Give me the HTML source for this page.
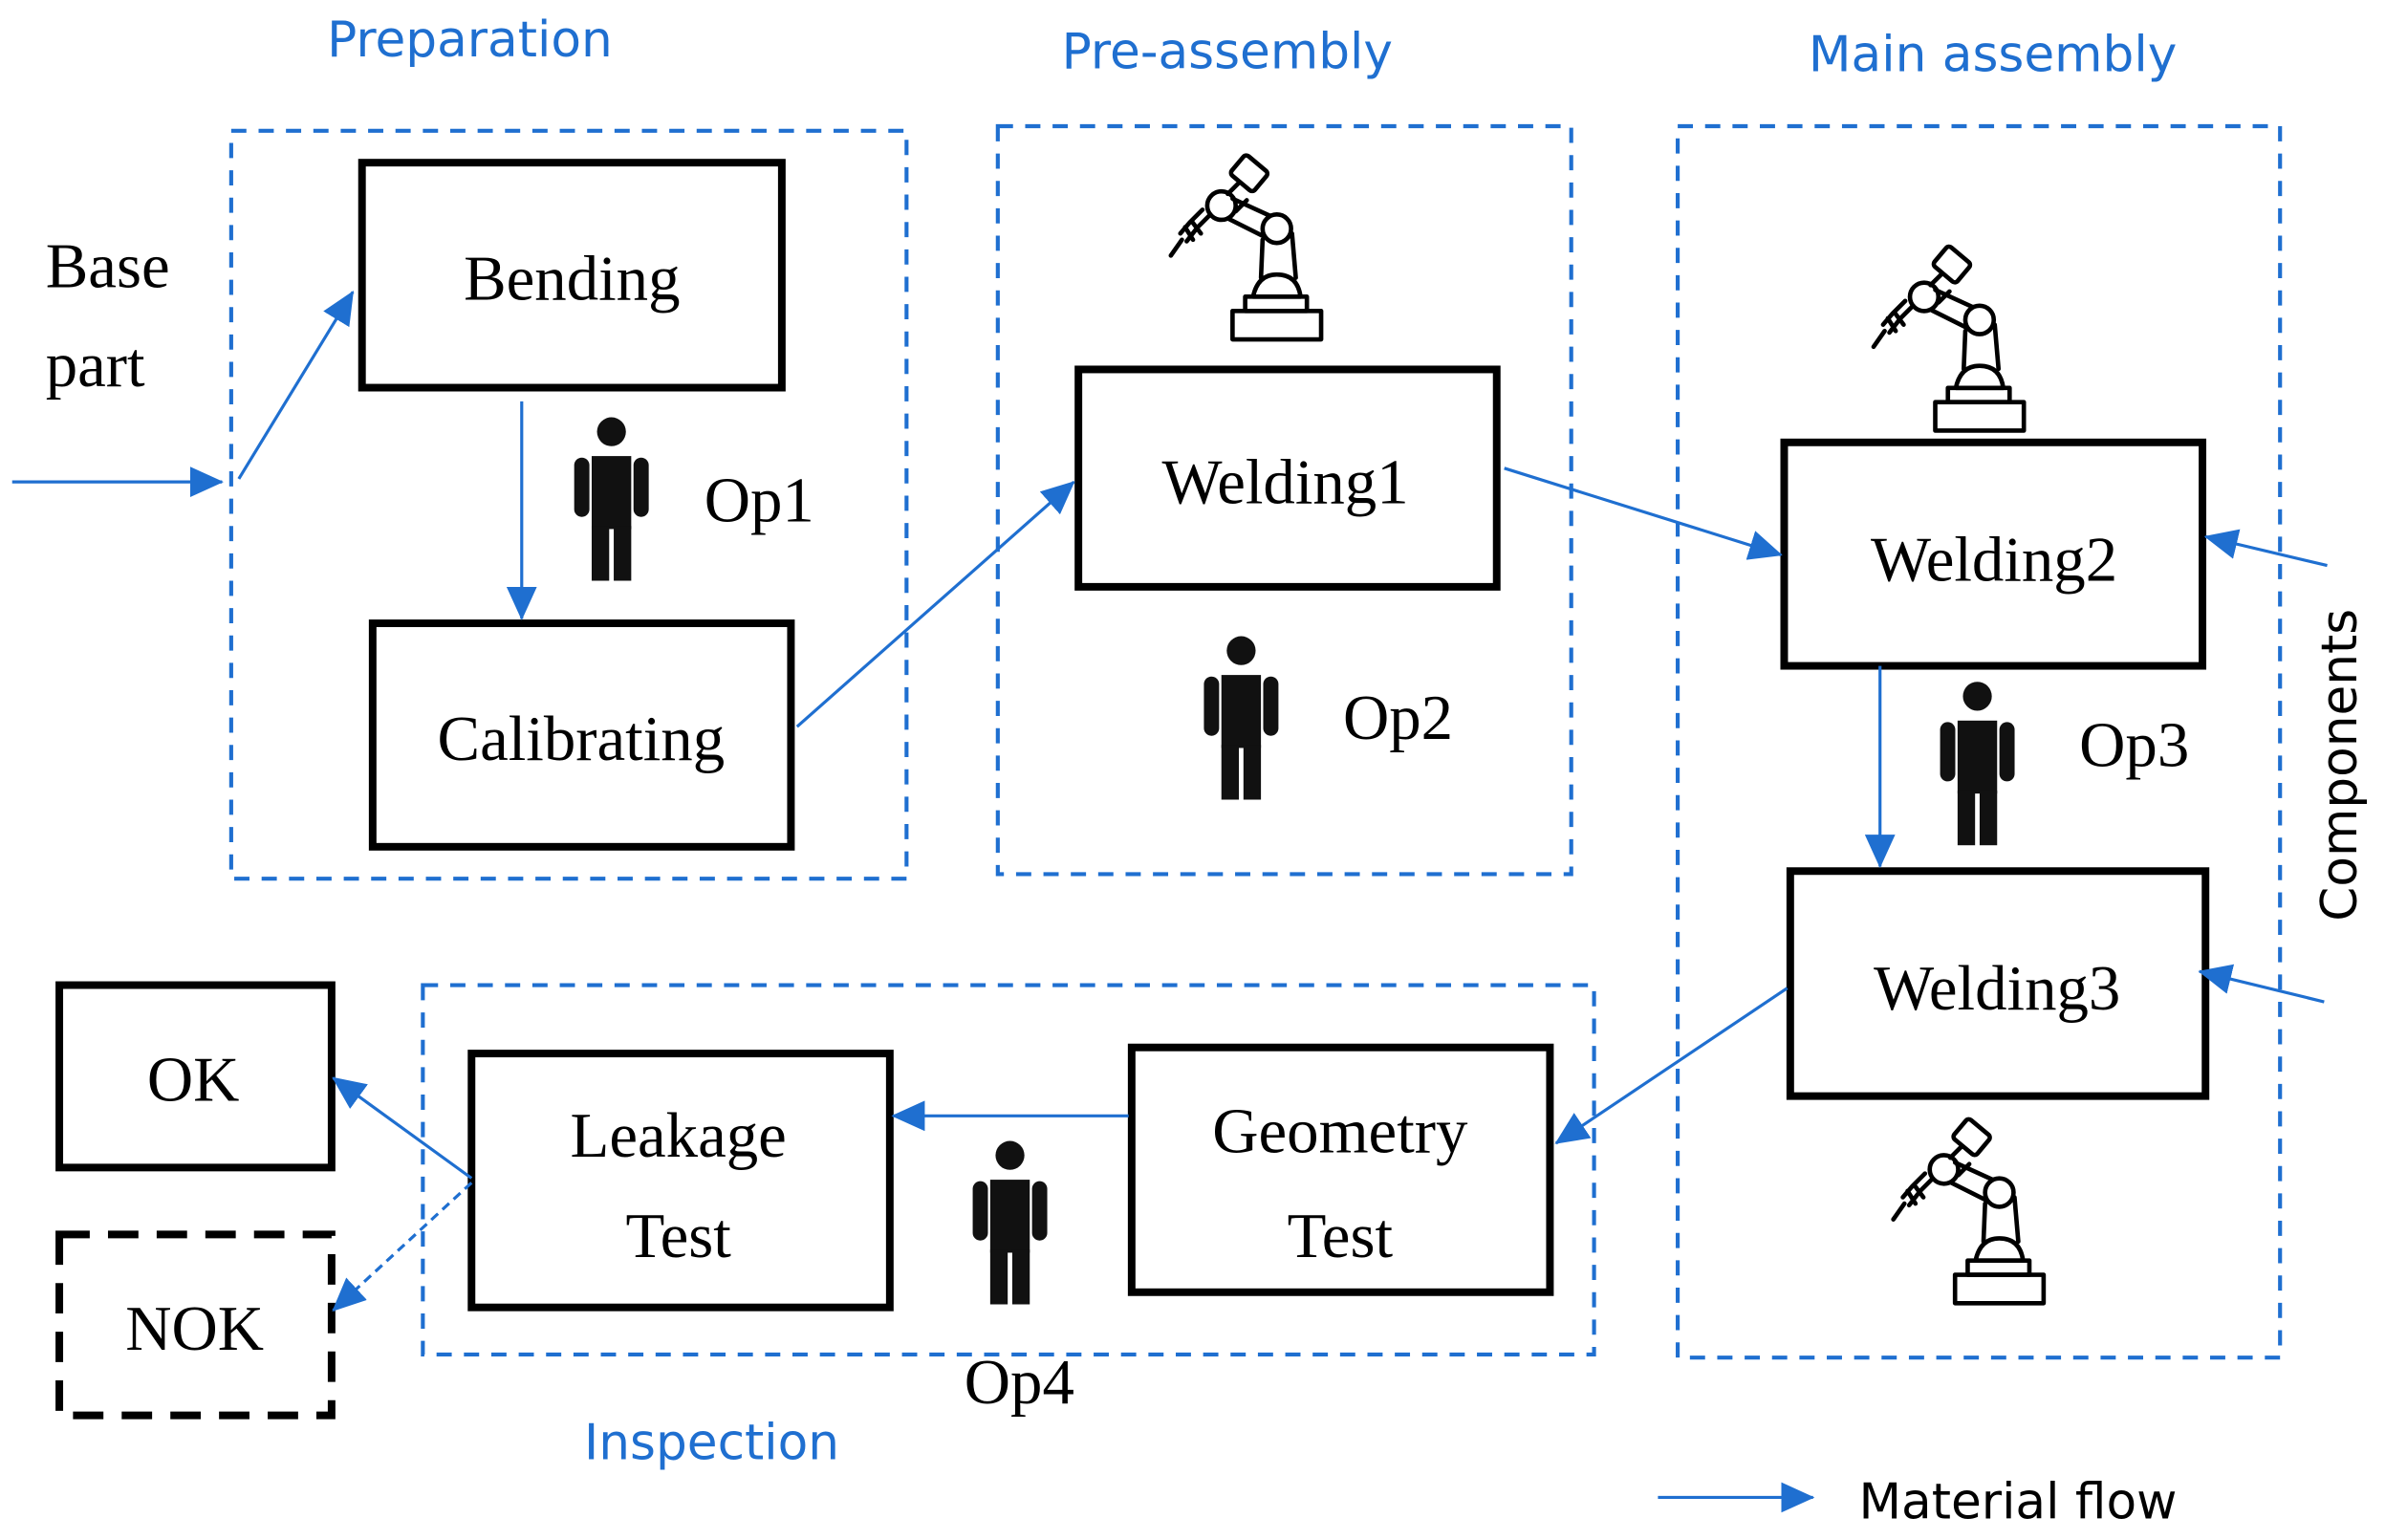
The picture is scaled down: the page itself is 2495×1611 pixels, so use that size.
<!DOCTYPE html>
<html><head><meta charset="utf-8"><style>
html,body{margin:0;padding:0;background:#fff}
svg{display:block}
.s{font-family:"Liberation Serif",serif;font-size:42px;fill:#000}
.b{font-family:"DejaVu Sans","Liberation Sans",sans-serif;font-size:32.5px;fill:#1f6fd0}
</style></head><body>
<svg width="2495" height="1611" viewBox="0 0 1568 1013" preserveAspectRatio="none" xmlns="http://www.w3.org/2000/svg">
<defs>
<marker id="A" markerWidth="22" markerHeight="20" refX="21" refY="10" orient="auto" markerUnits="userSpaceOnUse">
<path d="M0,0 L22,10 L0,20 z" fill="#1f6fd0"/>
</marker>
<g id="p" fill="#111">
<circle cx="0" cy="0" r="9.5"/>
<rect x="-13" y="16" width="26" height="48"/>
<rect x="-13" y="62" width="11.5" height="36"/>
<rect x="1.5" y="62" width="11.5" height="36"/>
<rect x="-24.5" y="17" width="10" height="39" rx="5"/>
<rect x="14.5" y="17" width="10" height="39" rx="5"/>
</g>
<g id="r" fill="none" stroke="#000" stroke-width="14" stroke-linejoin="round" stroke-linecap="round">
<g transform="scale(0.208)">
<rect x="295" y="90" width="95" height="80" rx="12" transform="rotate(40 343 130)"/>
<circle cx="255" cy="232" r="45" fill="#fff"/>
<path d="M275,195 L310,160 M300,250 L335,215"/>
<path d="M290,210 L410,265 M280,275 L390,330"/>
<circle cx="430" cy="305" r="45" fill="#fff"/>
<path d="M220,260 L180,300 L145,345 M195,245 L155,285 L125,320 M160,280 L190,320 M140,300 L165,340 M130,340 L95,390"/>
<path d="M385,340 L380,460 M478,320 L490,460"/>
<path d="M355,520 Q370,450 430,450 Q495,450 505,520 Z"/>
<rect x="330" y="520" width="195" height="45"/>
<rect x="290" y="565" width="280" height="90"/>
</g>
</g>
</defs>

<text class="b" x="215" y="37">Preparation</text>
<text class="b" x="698" y="45">Pre-assembly</text>
<text class="b" x="1189" y="47">Main assembly</text>
<text class="b" x="384" y="960">Inspection</text>
<text class="b" x="1222" y="999" style="fill:#000">Material flow</text>
<text class="b" transform="translate(1549,606) rotate(-90)" style="fill:#000">Components</text>

<g fill="none" stroke="#1f6fd0" stroke-width="2.6" stroke-dasharray="10,8">
<rect x="152" y="86" width="444" height="492"/>
<rect x="656" y="83" width="377" height="492"/>
<rect x="1103" y="83" width="396" height="810"/>
<rect x="278" y="648" width="770" height="243"/>
</g>

<g fill="none" stroke="#000" stroke-width="5">
<rect x="238" y="107" width="276" height="148"/>
<rect x="245" y="410" width="275" height="147"/>
<rect x="709" y="243" width="275" height="143"/>
<rect x="1173" y="291" width="275" height="147"/>
<rect x="1177" y="573" width="273" height="148"/>
<rect x="744" y="689" width="275" height="161"/>
<rect x="310" y="693" width="275" height="167"/>
<rect x="39" y="648" width="179" height="120"/>
</g>
<rect x="39" y="812" width="179" height="119" fill="none" stroke="#000" stroke-width="5" stroke-dasharray="20,12"/>

<g class="s">
<text x="376" y="197" text-anchor="middle">Bending</text>
<text x="382" y="500" text-anchor="middle">Calibrating</text>
<text x="845" y="331" text-anchor="middle">Welding1</text>
<text x="1311" y="382" text-anchor="middle">Welding2</text>
<text x="1313" y="664" text-anchor="middle">Welding3</text>
<text x="881" y="758" text-anchor="middle">Geometry</text>
<text x="881" y="827" text-anchor="middle">Test</text>
<text x="446" y="761" text-anchor="middle">Leakage</text>
<text x="446" y="827" text-anchor="middle">Test</text>
<text x="127" y="724" text-anchor="middle">OK</text>
<text x="128" y="888" text-anchor="middle">NOK</text>
<text x="30" y="189">Base</text>
<text x="30" y="254">part</text>
<text x="463" y="343">Op1</text>
<text x="883" y="486">Op2</text>
<text x="1367" y="504">Op3</text>
<text x="634" y="923">Op4</text>
</g>

<g stroke="#1f6fd0" stroke-width="2" fill="none">
<line x1="8" y1="317" x2="146" y2="317" marker-end="url(#A)"/>
<line x1="157" y1="315" x2="232" y2="192" marker-end="url(#A)"/>
<line x1="343" y1="264" x2="343" y2="407" marker-end="url(#A)"/>
<line x1="524" y1="478" x2="706" y2="317" marker-end="url(#A)"/>
<line x1="989" y1="308" x2="1171" y2="365" marker-end="url(#A)"/>
<line x1="1530" y1="372" x2="1450" y2="353" marker-end="url(#A)"/>
<line x1="1528" y1="659" x2="1446" y2="639" marker-end="url(#A)"/>
<line x1="1236" y1="438" x2="1236" y2="570" marker-end="url(#A)"/>
<line x1="1175" y1="650" x2="1023" y2="752" marker-end="url(#A)"/>
<line x1="742" y1="734" x2="587" y2="734" marker-end="url(#A)"/>
<line x1="310" y1="775" x2="219" y2="709" marker-end="url(#A)"/>
<line x1="310" y1="778" x2="219" y2="862" stroke-dasharray="6,4" marker-end="url(#A)"/>
<line x1="1090" y1="985" x2="1192" y2="985" marker-end="url(#A)"/>
</g>

<use href="#p" x="402" y="284"/>
<use href="#p" x="816" y="428"/>
<use href="#p" x="1300" y="458"/>
<use href="#p" x="664" y="760"/>

<g transform="translate(750,87)"><use href="#r"/></g>
<g transform="translate(1212,147)"><use href="#r"/></g>
<g transform="translate(1225,721)"><use href="#r"/></g>
</svg>
</body></html>
